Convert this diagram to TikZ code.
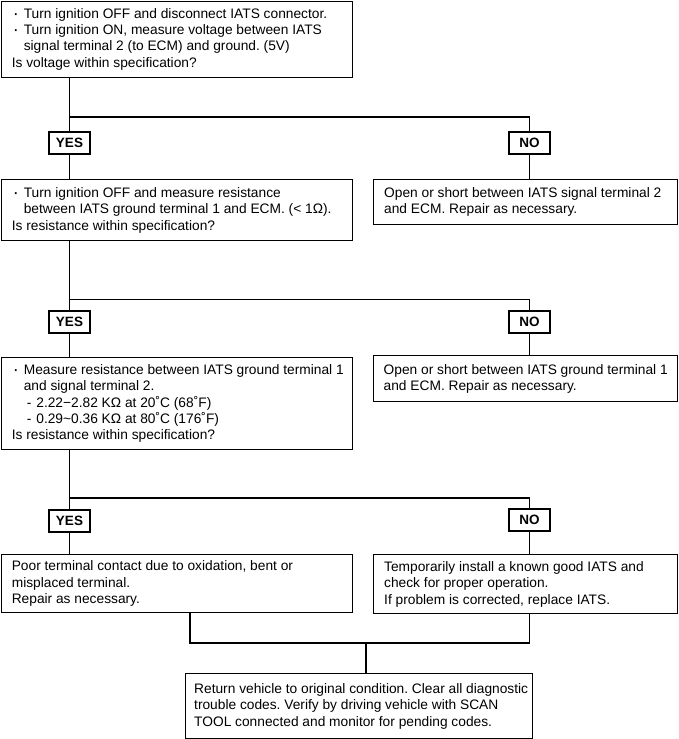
\documentclass[tikz,border=0pt]{standalone}
\usepackage{fontspec}
\setmainfont{Liberation Sans}
\frenchspacing
\newcommand{\bl}{\makebox[12pt][l]{\hspace{1pt}\raisebox{-0.8pt}{\fontsize{18}{16}\selectfont·}}}
\newcommand{\ind}{\hspace*{12pt}}
\newcommand{\dsh}{\hspace*{3pt}-\hspace*{5pt}}
\begin{document}
\begin{tikzpicture}[x=1pt,y=-1pt,
  frame/.style={draw, line width=1.3pt, anchor=north west, inner sep=0pt},
  txt/.style={anchor=west, inner sep=0pt, align=left, font=\fontsize{13.75}{16.3}\selectfont},
  lbl/.style={draw, line width=1.3pt, minimum width=41pt, minimum height=22pt, inner sep=0pt,
    font=\fontsize{13.5}{15}\selectfont\bfseries},
  ln/.style={line width=1.3pt}]
\useasboundingbox (0,0) rectangle (678,739);

% left column boxes
\node[frame, minimum width=351pt, minimum height=76pt] (b1) at (0.6,0.6) {};
\node[txt] (b1t) at ([xshift=11pt]b1.west) {%
\bl Turn ignition OFF and disconnect IATS connector.\\
\bl Turn ignition ON, measure voltage between IATS\\
\ind signal terminal 2 (to ECM) and ground. (5V)\\
Is voltage within specification?};

\node[lbl] (yes1) at (69.5,143) {YES};
\node[lbl] (no1) at (529.5,143) {NO};

\node[frame, minimum width=351pt, minimum height=61pt] (b2) at (0.6,179) {};
\node[txt] (b2t) at ([xshift=11pt]b2.west) {%
\bl Turn ignition OFF and measure resistance\\
\ind between IATS ground terminal 1 and ECM. (< 1Ω).\\
Is resistance within specification?};

\node[frame, minimum width=304pt, minimum height=45pt] (n1) at (373,179) {};
\node[txt] (n1t) at ([xshift=11pt]n1.west) {%
Open or short between IATS signal terminal 2\\
and ECM. Repair as necessary.};

\node[lbl] (yes2) at (69.5,322) {YES};
\node[lbl] (no2) at (529.5,322) {NO};

\node[frame, minimum width=351pt, minimum height=92pt] (b3) at (0.6,357) {};
\node[txt] (b3t) at ([xshift=11pt]b3.west) {%
\bl Measure resistance between IATS ground terminal 1\\
\ind and signal terminal 2.\\
\ind\dsh 2.22−2.82 KΩ at 20˚C (68˚F)\\
\ind\dsh 0.29\textasciitilde 0.36 KΩ at 80˚C (176˚F)\\
Is resistance within specification?};

\node[frame, minimum width=304pt, minimum height=46pt] (n2) at (373,355) {};
\node[txt] (n2t) at ([xshift=10.5pt]n2.west) {%
Open or short between IATS ground terminal 1\\
and ECM. Repair as necessary.};

\node[lbl] (yes3) at (69.5,521) {YES};
\node[lbl] (no3) at (529.5,520) {NO};

\node[frame, minimum width=351pt, minimum height=58pt] (b4) at (0.6,554) {};
\node[txt] (b4t) at ([xshift=11pt]b4.west) {%
Poor terminal contact due to oxidation, bent or\\
misplaced terminal.\\
Repair as necessary.};

\node[frame, minimum width=304pt, minimum height=59pt] (n3) at (373,554) {};
\node[txt] (n3t) at ([xshift=11pt]n3.west) {%
Temporarily install a known good IATS and\\
check for proper operation.\\
If problem is corrected, replace IATS.};

\node[frame, minimum width=347pt, minimum height=65pt] (fin) at (185,673) {};
\node[txt] (fint) at ([xshift=9pt]fin.west) {%
Return vehicle to original condition. Clear all diagnostic\\
trouble codes. Verify by driving vehicle with SCAN\\
TOOL connected and monitor for pending codes.};

% connectors
\coordinate (j1) at (69.5,117);
\coordinate (j2) at (69.5,299.5);
\coordinate (j3) at (69.5,498);
\coordinate (jl) at (190,643);
\coordinate (jr) at (529.5,643);
\coordinate (jm) at (366,643);

\draw[ln] (b1.south -| yes1) -- (yes1.north);
\draw[ln] (j1) -| (no1.north);
\draw[ln] (yes1.south) -- (b2.north -| yes1);
\draw[ln] (no1.south) -- (n1.north -| no1);

\draw[ln] (b2.south -| yes2) -- (yes2.north);
\draw[ln] (j2) -| (no2.north);
\draw[ln] (yes2.south) -- (b3.north -| yes2);
\draw[ln] (no2.south) -- (n2.north -| no2);

\draw[ln] (b3.south -| yes3) -- (yes3.north);
\draw[ln] (j3) -| (no3.north);
\draw[ln] (yes3.south) -- (b4.north -| yes3);
\draw[ln] (no3.south) -- (n3.north -| no3);

\draw[ln] (b4.south -| jl) -- (jl) -- (jr) -- (n3.south -| jr);
\draw[ln] (jm) -- (fin.north -| jm);
\end{tikzpicture}
\end{document}
